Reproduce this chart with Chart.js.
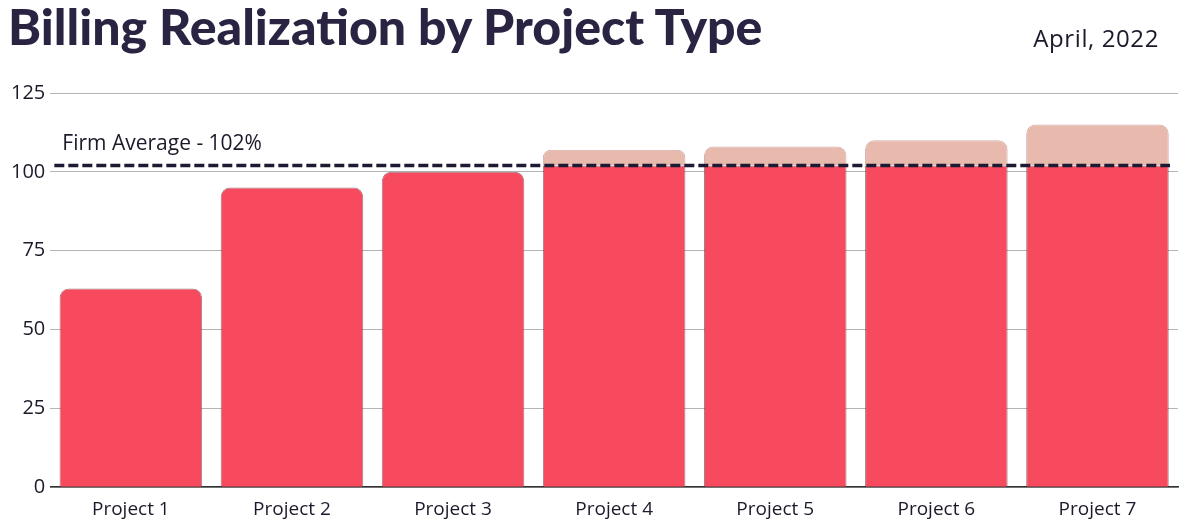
<!DOCTYPE html>
<html>
<head>
<meta charset="utf-8">
<script src="https://cdn.jsdelivr.net/npm/chart.js@4"></script>
<style>
  body { margin:0; background:#fff; }
  #wrap { position:relative; width:1186px; height:532px; }
  #title { position:absolute; left:8px; top:-4px; font-family:Lato, sans-serif; font-weight:900; font-size:50px; color:#2a2342; letter-spacing:0px; white-space:nowrap; }
  #date { position:absolute; right:27px; top:21px; font-family:"Open Sans", sans-serif; font-size:24px; color:#1a1a2a; letter-spacing:0.6px; }
  canvas { position:absolute; left:0; top:0; }
</style>
</head>
<body>
<div id="wrap">
  <canvas id="myChart" width="1186" height="532"></canvas>
  <div id="title">Billing Realization by Project Type</div>
  <div id="date">April, 2022</div>
</div>
<script>
const labels = ['Project 1','Project 2','Project 3','Project 4','Project 5','Project 6','Project 7'];
const withinAvg = [63, 95, 100, 102, 102, 102, 102];
const aboveAvg = [0, 0, 0, 5, 6, 8, 13];
const firmAverage = 102;
const yTicks = [0, 25, 50, 75, 100, 125];

const ctx = document.getElementById('myChart');

const avgLine = {
    id:'avgLine',
    afterDatasetsDraw(chart){
        const c = chart.ctx;
        const y = chart.scales.y.getPixelForValue(firmAverage);
        const area = chart.chartArea;
        c.save();
        c.strokeStyle = '#1f1a33';
        c.lineWidth = 3.5;
        c.setLineDash([10,4]);
        c.beginPath();
        c.moveTo(area.left + 4, y);
        c.lineTo(area.right - 8, y);
        c.stroke();
        c.setLineDash([]);
        c.fillStyle = '#1a1a2a';
        c.font = '21px "Open Sans", sans-serif';
        c.textBaseline = 'alphabetic';
        c.fillText('Firm Average - ' + firmAverage + '%', area.left + 12, y - 16);
        c.restore();
    }
};

new Chart(ctx, {
    type:'bar',
    data:{
        labels: labels,
        datasets:[{
            label:'Realization',
            data: withinAvg,
            backgroundColor:'#f74a5f',
            borderColor:'rgba(90,40,50,0.6)',
            borderWidth:1,
            borderRadius:9,
            borderSkipped:'bottom',
            barPercentage:0.885,
            categoryPercentage:1,
        },{
            label:'Above average',
            data: aboveAvg,
            backgroundColor:'#e8b9ad',
            borderColor:'rgba(190,140,130,0.7)',
            borderWidth:1,
            borderRadius:9,
            borderSkipped:'bottom',
            barPercentage:0.885,
            categoryPercentage:1,
        }]
    },
    plugins:[avgLine],
    options:{
        responsive:false,
        animation:false,
        layout:{ padding:{ top:93, right:8, left:6, bottom:8 } },
        plugins:{ legend:{ display:false }, tooltip:{ enabled:false } },
        scales:{
            x:{
                stacked:true,
                grid:{ display:false },
                border:{ color:'#333', width:1.5 },
                ticks:{ color:'#1a1a2a', font:{ family:'Open Sans', size:19 }, padding:3 }
            },
            y:{
                stacked:true,
                min:0, max:125,
                afterBuildTicks(axis){ axis.ticks = yTicks.map(v => ({value:v})); },
                grid:{ color:'#b5b5b5', lineWidth:1, drawTicks:false },
                border:{ display:false },
                ticks:{ color:'#1a1a2a', font:{ family:'Open Sans', size:20 }, padding:5 }
            }
        }
    }
});
</script>
</body>
</html>
